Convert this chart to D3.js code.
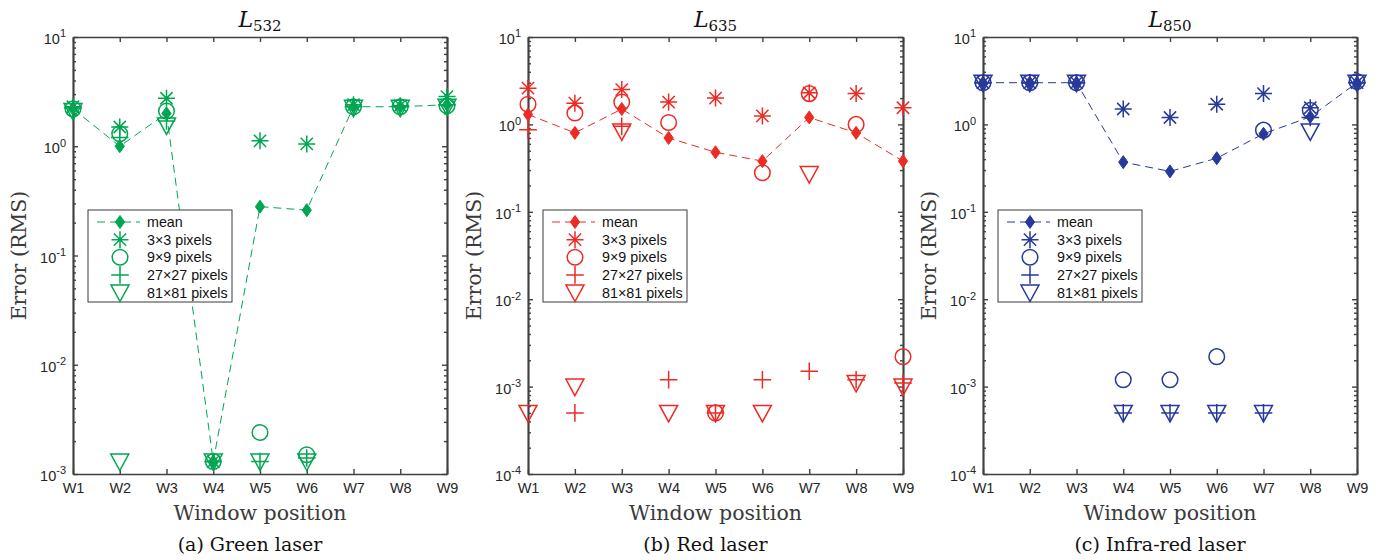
<!DOCTYPE html>
<html>
<head>
<meta charset="utf-8">
<script src="https://cdn.jsdelivr.net/npm/d3@7"></script>
<style>
  html, body { margin: 0; padding: 0; background: #fff; }
  svg { display: block; }
</style>
</head>
<body>
<svg id="chart" width="1384" height="560"></svg>
<script>
// ---------------- DATA ----------------
const windows = ["W1", "W2", "W3", "W4", "W5", "W6", "W7", "W8", "W9"];
const seriesNames = ["mean", "3\u00d73 pixels", "9\u00d79 pixels", "27\u00d727 pixels", "81\u00d781 pixels"];

// Green laser (L532)
const greenMean = [2.2, 1.0, 2.0, 0.0013, 0.28, 0.26, 2.3, 2.3, 2.4];
const green3x3  = [2.3, 1.5, 2.75, 0.0013, 1.12, 1.05, 2.4, 2.35, 2.85];
const green9x9  = [2.2, 1.3, 2.1, 0.0013, 0.0024, 0.0015, 2.3, 2.3, 2.35];
const green27   = [2.25, 1.2, 1.7, 0.0013, 0.0013, 0.0014, 2.3, 2.3, 2.4];
const green81   = [2.1, 0.0013, 1.55, 0.0013, 0.0013, 0.0013, 2.25, 2.25, 2.3];

// Red laser (L635)
const redMean = [1.3, 0.8, 1.5, 0.7, 0.48, 0.38, 1.2, 0.8, 0.38];
const red3x3  = [2.6, 1.75, 2.5, 1.8, 2.0, 1.25, 2.3, 2.25, 1.55];
const red9x9  = [1.7, 1.35, 1.8, 1.05, 0.0005, 0.28, 2.25, 1.0, 0.0022];
const red27   = [0.87, 0.0005, 0.95, 0.0012, 0.0005, 0.0012, 0.0015, 0.0012, 0.0011];
const red81   = [0.0005, 0.001, 0.83, 0.0005, 0.0005, 0.0005, 0.27, 0.0011, 0.001];

// Infra-red laser (L850)
const blueMean = [3.0, 3.0, 3.0, 0.37, 0.29, 0.41, 0.78, 1.22, 3.0];
const blue3x3  = [3.0, 3.0, 3.0, 1.5, 1.2, 1.7, 2.25, 1.55, 3.0];
const blue9x9  = [3.0, 3.0, 3.0, 0.0012, 0.0012, 0.0022, 0.86, 1.45, 3.1];
const blue27   = [3.0, 3.0, 3.0, 0.0005, 0.0005, 0.0005, 0.0005, 1.2, 3.0];
const blue81   = [3.0, 3.0, 3.0, 0.0005, 0.0005, 0.0005, 0.0005, 0.83, 3.0];

const titleSubs = ["532", "635", "850"];
const captions = ["(a) Green laser", "(b) Red laser", "(c) Infra-red laser"];
const yMinExp = [-3, -4, -4];
const yMaxExp = 1;

// ---------------- LAYOUT ----------------
const panels = [
  { x0: 73,  x1: 447,  color: "#00a651", sub: titleSubs[0], caption: captions[0], minE: yMinExp[0],
    series: [greenMean, green3x3, green9x9, green27, green81] },
  { x0: 528, x1: 903,  color: "#ee2a24", sub: titleSubs[1], caption: captions[1], minE: yMinExp[1],
    series: [redMean, red3x3, red9x9, red27, red81] },
  { x0: 983, x1: 1357, color: "#27399a", sub: titleSubs[2], caption: captions[2], minE: yMinExp[2],
    series: [blueMean, blue3x3, blue9x9, blue27, blue81] }
];
const yTop = 37, yBot = 474;
const axisColor = "#404040";
const tickFont = "'Liberation Sans', Arial, Helvetica, sans-serif";
const serifFont = "'DejaVu Serif', serif";

const svg = d3.select("#chart");

// marker path builders (centered at 0,0)
function starPath(r) {
  const p = d3.path(); const d = r * 0.72;
  p.moveTo(-r, 0); p.lineTo(r, 0);
  p.moveTo(0, -r); p.lineTo(0, r);
  p.moveTo(-d, -d); p.lineTo(d, d);
  p.moveTo(-d, d); p.lineTo(d, -d);
  return p.toString();
}
function circlePath(r) {
  const p = d3.path(); p.moveTo(r, 0); p.arc(0, 0, r, 0, 2 * Math.PI); p.closePath(); return p.toString();
}
function plusPath(r) {
  const p = d3.path(); p.moveTo(-r, 0); p.lineTo(r, 0); p.moveTo(0, -r); p.lineTo(0, r); return p.toString();
}
function triPath() {
  const p = d3.path(); p.moveTo(-9, -7.5); p.lineTo(9, -7.5); p.lineTo(0, 9); p.closePath(); return p.toString();
}
function diamondPath() {
  const p = d3.path(); p.moveTo(0, -6.5); p.lineTo(4.6, 0); p.lineTo(0, 6.5); p.lineTo(-4.6, 0); p.closePath(); return p.toString();
}
const markerPaths = [diamondPath(), starPath(8.5), circlePath(7.8), plusPath(8.8), triPath()];

panels.forEach((P, pi) => {
  const g = svg.append("g");
  const x = d3.scalePoint().domain(windows).range([P.x0, P.x1]).padding(0);
  const y = d3.scaleLog().domain([Math.pow(10, P.minE), Math.pow(10, yMaxExp)]).range([yBot, yTop]);

  const majors = d3.range(P.minE, yMaxExp + 1).map(e => Math.pow(10, e));
  const minors = [];
  for (let e = P.minE; e < yMaxExp; e++) for (let m = 2; m <= 9; m++) minors.push(m * Math.pow(10, e));

  g.append("rect").attr("x", P.x0).attr("y", yTop).attr("width", P.x1 - P.x0).attr("height", yBot - yTop).attr("fill", "#fff");

  // Axes
  const left = g.append("g").attr("transform", `translate(${P.x0},0)`)
    .call(d3.axisLeft(y).tickValues(majors).tickSizeInner(-5).tickSizeOuter(0).tickPadding(7));
  left.selectAll(".tick text").each(function(d) {
    const t = d3.select(this);
    const e = Math.round(Math.log10(d));
    t.text(null).attr("dy", "0.45em");
    t.append("tspan").text("10");
    t.append("tspan").attr("dy", "-0.6em").attr("font-size", "11px").text(e);
  });
  g.append("g").attr("transform", `translate(${P.x0},0)`)
    .call(d3.axisLeft(y).tickValues(minors).tickSizeInner(-3).tickSizeOuter(0).tickFormat(""));
  g.append("g").attr("transform", `translate(${P.x1},0)`)
    .call(d3.axisRight(y).tickValues(majors).tickSizeInner(-5).tickSizeOuter(0).tickFormat(""));
  g.append("g").attr("transform", `translate(${P.x1},0)`)
    .call(d3.axisRight(y).tickValues(minors).tickSizeInner(-3).tickSizeOuter(0).tickFormat(""));
  g.append("g").attr("transform", `translate(0,${yBot})`)
    .call(d3.axisBottom(x).tickSizeInner(-5).tickSizeOuter(0).tickPadding(9));
  g.append("g").attr("transform", `translate(0,${yTop})`)
    .call(d3.axisTop(x).tickSizeInner(-5).tickSizeOuter(0).tickFormat(""));

  g.selectAll(".domain").attr("stroke", axisColor).attr("stroke-width", 1.7);
  g.selectAll(".tick line").attr("stroke", axisColor).attr("stroke-width", 1.4);
  g.selectAll(".tick text").attr("fill", "#262626").style("font-family", tickFont).style("font-size", "14.5px");

  // Data
  const dataG = g.append("g");
  const meanLine = d3.line().x((d, i) => x(windows[i])).y(d => y(d));
  dataG.append("path").datum(P.series[0]).attr("d", meanLine)
    .attr("fill", "none").attr("stroke", P.color).attr("stroke-width", 1).attr("stroke-dasharray", "8,5");

  P.series.forEach((vals, si) => {
    dataG.append("g").selectAll("path").data(vals).join("path")
      .attr("transform", (d, i) => `translate(${x(windows[i])},${y(d)})`)
      .attr("d", markerPaths[si])
      .attr("fill", si === 0 ? P.color : "none")
      .attr("stroke", P.color)
      .attr("stroke-width", si === 0 ? 1 : 1.5)
      .attr("stroke-linejoin", "miter");
  });

  // Legend
  const lx = P.x0 + 15, ly = 210, lw = 144, lh = 92;
  const leg = g.append("g");
  leg.append("rect").attr("x", lx).attr("y", ly).attr("width", lw).attr("height", lh)
    .attr("fill", "#fff").attr("stroke", "#3a3a3a").attr("stroke-width", 1);
  const rowY = d3.scaleLinear().domain([0, 4]).range([ly + 12, ly + 82.5]);
  seriesNames.forEach((name, si) => {
    const ry = rowY(si);
    const mx = lx + 32;
    if (si === 0) {
      leg.append("line").attr("x1", lx + 9).attr("x2", lx + 52).attr("y1", ry).attr("y2", ry)
        .attr("stroke", P.color).attr("stroke-width", 1).attr("stroke-dasharray", "8,5");
    }
    leg.append("path").attr("transform", `translate(${mx},${ry})`).attr("d", markerPaths[si])
      .attr("fill", si === 0 ? P.color : "none").attr("stroke", P.color).attr("stroke-width", si === 0 ? 1 : 1.5);
    leg.append("text").attr("x", lx + 59).attr("y", ry).attr("dy", "0.36em")
      .style("font-family", tickFont).style("font-size", "14.3px").attr("fill", "#111").text(name);
  });

  // Titles and labels
  const cx = (P.x0 + P.x1) / 2;
  const title = g.append("text").attr("x", cx).attr("y", 27).attr("text-anchor", "middle")
    .style("font-family", serifFont).attr("fill", "#111");
  title.append("tspan").style("font-style", "italic").style("font-size", "22px").text("L");
  title.append("tspan").attr("dy", "4").style("font-size", "15px").text(P.sub);

  g.append("text").attr("transform", `translate(${P.x0 - 47},${(yTop + yBot) / 2}) rotate(-90)`)
    .attr("text-anchor", "middle").style("font-family", serifFont).style("font-size", "20.5px")
    .attr("fill", "#3a3a3a").text("Error (RMS)");
  g.append("text").attr("x", cx).attr("y", 520).attr("text-anchor", "middle")
    .style("font-family", serifFont).style("font-size", "20.5px").attr("fill", "#3a3a3a").text("Window position");
  g.append("text").attr("x", cx - 10).attr("y", 551).attr("text-anchor", "middle")
    .style("font-family", serifFont).style("font-size", "19px").attr("fill", "#111").text(P.caption);
});
</script>
</body>
</html>
